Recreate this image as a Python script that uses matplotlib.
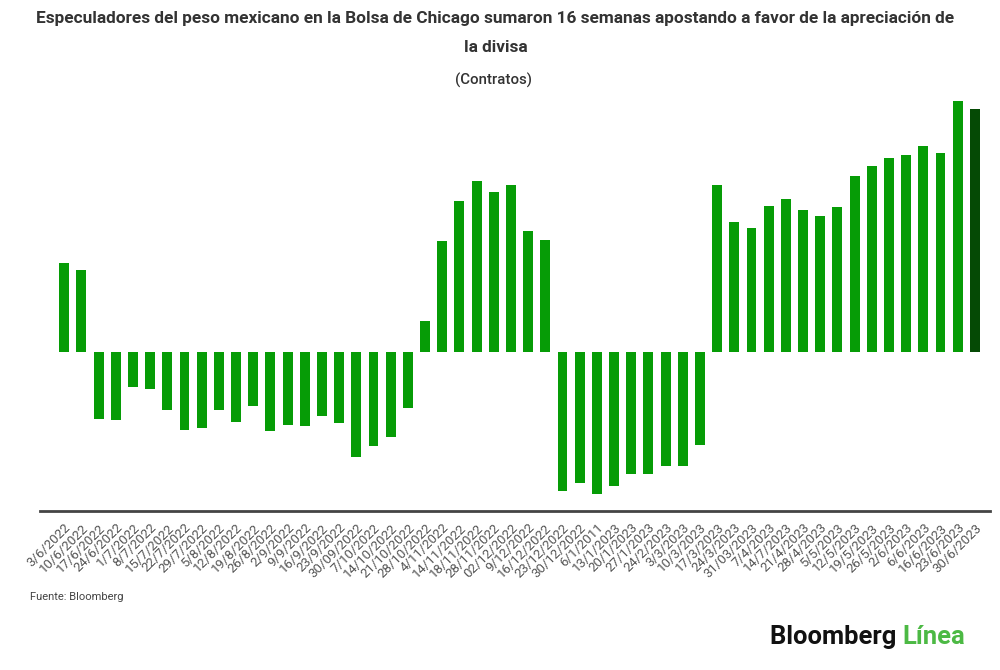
import matplotlib.pyplot as plt
import numpy as np

plt.rcParams['font.family'] = ['Roboto', 'DejaVu Sans']

# fechas de cada reporte semanal (tal como aparecen en el original)
fechas = [
    '3/6/2022', '10/6/2022', '17/6/2022', '24/6/2022', '1/7/2022', '8/7/2022',
    '15/7/2022', '22/7/2022', '29/7/2022', '5/8/2022', '12/8/2022', '19/8/2022',
    '26/8/2022', '2/9/2022', '9/9/2022', '16/9/2022', '23/9/2022', '30/09/2022',
    '7/10/2022', '14/10/2022', '21/10/2022', '28/10/2022', '4/11/2022', '14/11/2022',
    '18/11/2022', '28/11/2022', '02/12/2022', '9/12/2022', '16/12/2022', '23/12/2022',
    '30/12/2022', '6/1/2011', '13/1/2023', '20/1/2023', '27/1/2023', '24/2/2023',
    '3/3/2023', '10/3/2023', '17/3/2023', '24/3/2023', '31/03/2023', '7/4/2023',
    '14/7/2023', '21/4/2023', '28/4/2023', '5/5/2023', '12/5/2023', '19/5/2023',
    '26/5/2023', '2/6/2023', '6/6/2023', '16/6/2023', '23/6/2023', '30/6/2023',
]

# posiciones netas (contratos, escala estimada del grafico)
contratos = [
    89, 82, -67, -68, -35, -37, -58, -78, -76, -58, -70, -54,
    -79, -73, -74, -64, -71, -105, -94, -85, -56, 31, 111, 151,
    171, 160, 167, 121, 112, -139, -131, -142, -134, -122, -122, -114,
    -114, -93, 167, 130, 124, 146, 153, 142, 136, 145, 176, 186,
    194, 197, 206, 199, 251, 243,
]

verde = '#069c06'
verde_oscuro = '#054a05'

fig = plt.figure(figsize=(10, 6.7), dpi=100)
ax = fig.add_axes([0.04, 0.2366, 0.95, 0.6216])

x = np.arange(len(contratos))
colores = [verde] * (len(contratos) - 1) + [verde_oscuro]
ax.bar(x, contratos, width=0.58, color=colores)

ax.set_xlim(-1.41, 53.88)
ax.set_ylim(-159.5, 257)
ax.set_xticks(x)
ax.set_xticklabels(fechas, rotation=45, ha='right', va='top',
                   rotation_mode='anchor', fontsize=9.5, color='#555555')
ax.tick_params(axis='x', length=0, pad=7)
ax.set_yticks([])

for s in ['top', 'right', 'left']:
    ax.spines[s].set_visible(False)
ax.spines['bottom'].set_color('#444444')
ax.spines['bottom'].set_linewidth(2)

# titulos
fig.text(0.4955, 1 - 18 / 670, 'Especuladores del peso mexicano en la Bolsa de Chicago sumaron 16 semanas apostando a favor de la apreciación de',
         ha='center', va='center', fontsize=12.4, fontweight='bold', color='#333333')
fig.text(0.4955, 1 - 47 / 670, 'la divisa', ha='center', va='center',
         fontsize=12.4, fontweight='bold', color='#333333')
fig.text(0.494, 1 - 80 / 670, '(Contratos)', ha='center', va='center',
         fontsize=10.8, fontweight='medium', color='#333333')

fig.text(0.03, 1 - 597 / 670, 'Fuente: Bloomberg', ha='left', va='center',
         fontsize=8, color='#444444')

# logo
t = fig.text(0.77, 1 - 637 / 670, 'Bloomberg ', ha='left', va='center',
             fontsize=18.4, fontweight='bold', color='#111111')
fig.canvas.draw()
bb = t.get_window_extent()
fig.text(bb.x1 / fig.bbox.width, 1 - 637 / 670, 'Línea', ha='left', va='center',
         fontsize=18.4, fontweight='bold', color='#4cb944')

fig.savefig('out.png', dpi=100, facecolor='white')
